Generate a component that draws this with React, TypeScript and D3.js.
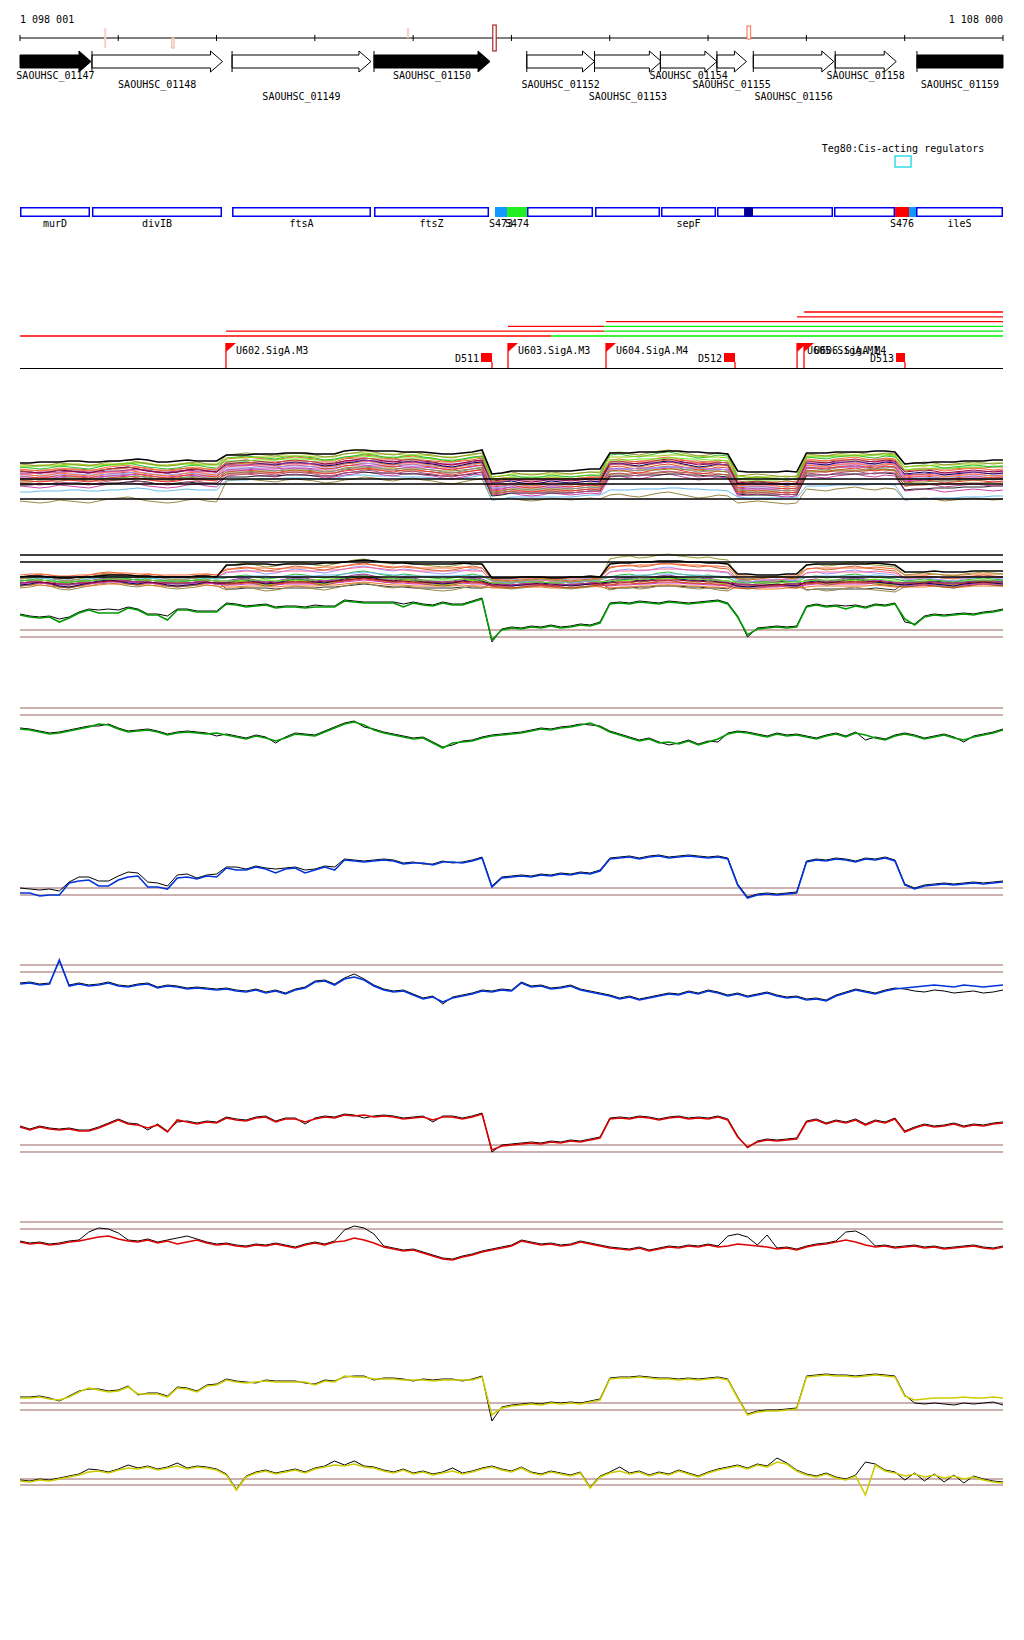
import * as d3 from 'd3'

const START = 1098001
const END = 1108000

// sample positions of every signal track (one value each 100 bp)
const grid = d3.range(101).map(i => Math.min(START + i * 100, END))

const axisMarks = [
  { start: 1098858, end: 1098878, kind: 'both' },
  { start: 1099545, end: 1099568, kind: 'minus' },
  { start: 1101937, end: 1101958, kind: 'plus' },
  { start: 1102810, end: 1102845, kind: 'tall' },
  { start: 1105396, end: 1105432, kind: 'plusBox' },
]

const genes = [
  { name: 'SAOUHSC_01147', start: 1098001, end: 1098723, dark: true },
  { name: 'SAOUHSC_01148', start: 1098733, end: 1100061, dark: false },
  { name: 'SAOUHSC_01149', start: 1100158, end: 1101571, dark: false },
  { name: 'SAOUHSC_01150', start: 1101602, end: 1102782, dark: true },
  { name: 'SAOUHSC_01152', start: 1103156, end: 1103845, dark: false },
  { name: 'SAOUHSC_01153', start: 1103845, end: 1104525, dark: false },
  { name: 'SAOUHSC_01154', start: 1104515, end: 1105090, dark: false },
  { name: 'SAOUHSC_01155', start: 1105090, end: 1105390, dark: false },
  { name: 'SAOUHSC_01156', start: 1105460, end: 1106279, dark: false },
  { name: 'SAOUHSC_01158', start: 1106293, end: 1106914, dark: false },
  { name: 'SAOUHSC_01159', start: 1107125, end: 1108000, dark: true },
]

const regulators = [{ name: 'Teg80', category: 'Cis-acting regulators', start: 1106902, end: 1107065 }]

const features = [
  { name: 'murD', start: 1098001, end: 1098713, kind: 'cds' },
  { name: 'divIB', start: 1098733, end: 1100056, kind: 'cds' },
  { name: 'ftsA', start: 1100158, end: 1101571, kind: 'cds' },
  { name: 'ftsZ', start: 1101602, end: 1102772, kind: 'cds' },
  { name: 'S473', start: 1102833, end: 1102955, kind: 'utr' },
  { name: 'S474', start: 1102955, end: 1103158, kind: 'srna' },
  { name: '', start: 1103158, end: 1103830, kind: 'cds' },
  { name: '', start: 1103850, end: 1104511, kind: 'cds' },
  { name: 'sepF', start: 1104521, end: 1105081, kind: 'cds' },
  { name: '', start: 1105091, end: 1106271, kind: 'cds' },
  { name: '', start: 1105366, end: 1105457, kind: 'ncrna' },
  { name: '', start: 1106281, end: 1106902, kind: 'cds' },
  { name: 'S476', start: 1106902, end: 1107044, kind: 'riboswitch' },
  { name: '', start: 1107044, end: 1107115, kind: 'utr' },
  { name: 'ileS', start: 1107115, end: 1108000, kind: 'cds' },
]

const transcripts = [
  { start: 1098001, switchAt: 1103402, end: 1108000 },
  { start: 1100096, switchAt: 1103941, end: 1108000 },
  { start: 1102965, switchAt: 1103941, end: 1108000 },
  { start: 1103962, switchAt: null, end: 1108000 },
  { start: 1105905, switchAt: null, end: 1108000 },
  { start: 1105976, switchAt: null, end: 1108000 },
]

const promoters = [
  { name: 'U602.SigA.M3', pos: 1100096 },
  { name: 'U603.SigA.M3', pos: 1102965 },
  { name: 'U604.SigA.M4', pos: 1103962 },
  { name: 'U605.SigA.M1', pos: 1105905 },
  { name: 'U606.SigA.M4', pos: 1105976 },
]

const terminators = [
  { name: 'D511', start: 1102690, end: 1102802 },
  { name: 'D512', start: 1105162, end: 1105274 },
  { name: 'D513', start: 1106912, end: 1107003 },
]

// segment boundaries of the expression bundles
const segBounds = [1100056, 1102761, 1103952, 1105254, 1105945, 1106952]

// bundle 1: level of each condition in each segment
const bundleALevels = [
  [36, 46, 27, 46, 27, 46, 37],
  [34, 44, 25, 45, 23, 44, 35],
  [33, 43, 24, 42, 22, 43, 34],
  [31, 41, 22, 43, 20, 41, 32],
  [32, 40, 21, 39, 19, 42, 31],
  [29, 40, 20, 38, 20, 39, 29],
  [28, 38, 19, 37, 17, 38, 30],
  [27, 37, 18, 36, 16, 37, 27],
  [26, 36, 18, 35, 15, 36, 26],
  [27, 35, 16, 34, 15, 35, 25],
  [25, 35, 15, 35, 14, 34, 24],
  [24, 34, 14, 33, 13, 33, 23],
  [23, 33, 13, 30, 12, 33, 22],
  [22, 32, 12, 31, 11, 31, 21],
  [21, 31, 11, 30, 10, 31, 20],
  [20, 29, 10, 29, 9, 30, 19],
  [19, 29, 9, 28, 8, 28, 18],
  [18, 27, 8, 27, 7, 28, 17],
  [17, 27, 7, 25, 6, 27, 15],
  [15, 25, 6, 24, 5, 25, 13],
  [14, 24, 5, 23, 4, 24, 11],
  [12, 23, 4, 21, 3, 22, 8],
  [7, 21, 1, 9, 1, 13, 1],
  [-3, 18, -1, 3, -4, 9, -1],
]

const bundleAWiggle = [
  0, 0, 1, 1, 1, 2, 2, 1, 1, 2, 2, 3, 4, 3, 1, 1, 2, 3, 2, 2, 2,
  -2, -2, -2, -1, -1, -1, 0, 0, 0, -1, -1, -1, 2, 3, 3, 2, 2, 2, 1, 1, 1, 0, -1, -1, 0, 1, 3,
  -2, -1, 1, 1, 1, 1, 1, 1, 1, 2, 3, 3,
  0, 0, 0, 1, 1, 1, 2, 2, 1, 1, 0, 0, -1,
  1, 0, 0, 0, 0, 1, 0,
  0, 0, 0, 1, 1, 1, 1, 2, 2, 1,
  -2, -1, -1, 0, 0, 0, 1, 1, 1, 2, 2,
]

const bundleAWiggle2 = [
  1, 0, -1, 0, 2, 1, 0, -1, 1, 3, 4, 5, 3, 1, 0, -1, 0, 2, 3, 1, 0,
  0, 1, 2, 1, 0, -1, 1, 2, 1, 0, -2, -1, 1, 2, 4, 3, 1, 0, 2, 3, 1, 0, -2, -3, -1, 1, 2,
  0, 1, 2, 0, -1, 0, 2, 1, 0, 1, 2, 1,
  1, 2, 0, -1, 1, 3, 4, 2, 0, -2, -1, 1, 0,
  0, 1, 2, 1, 0, -1, 0,
  1, 0, -1, 1, 2, 3, 1, 0, 2, 1,
  0, 1, 2, 1, -1, 0, 1, 2, 1, 0, 1,
]

const bundleBLevels = [
  [-1, 11, -1, 12, 2, 11, 4],
  [-2, 9, -4, 15, -1, 9, 2],
  [1, 7, -2, 9, 0, 7, 1],
  [0, 5, -3, 6, -2, 5, -1],
  [-1, 4, -4, 4, -3, 3, -2],
  [-2, 2, -5, 2, -4, 1, -3],
  [-3, -1, -3, -1, -3, -1, -2],
  [-4, -3, -5, -3, -5, -3, -4],
  [-5, -5, -6, -5, -6, -5, -5],
  [-6, -6, -7, -6, -7, -6, -6],
  [-7, -7, -8, -7, -8, -7, -7],
  [-8, -8, -8, -8, -9, -8, -8],
  [-7, -8, -9, -9, -9, -8, -8],
  [-6, -9, -7, -9, -7, -9, -7],
  [-8, -9, -9, -10, -10, -9, -9],
  [-9, -10, -10, -11, -11, -10, -10],
  [-10, -11, -11, -12, -12, -11, -11],
  [-11, -15, -11, -16, -9, -16, -10],
  [-5, -13, -6, -13, -5, -14, -6],
  [-9, -7, -10, -7, -10, -7, -9],
]

const bundleBWiggle = [
  1, 2, 2, 1, 0, 0, 1, 1, 2, 3, 3, 3, 2, 2, 1, 1, 1, 1, 2, 2, 1,
  1, 1, 2, 2, 2, 1, 2, 2, 2, 2, 3, 3, 4, 5, 6, 5, 4, 3, 3, 2, 2, 2, 2, 2, 3, 2, 2,
  0, 0, 0, 1, 1, 1, 0, 0, 1, 1, 2, 1,
  1, 2, 2, 3, 3, 4, 4, 4, 3, 3, 2, 2, 1,
  1, 1, 0, 0, 0, 1, 1,
  1, 2, 2, 2, 2, 2, 2, 3, 2, 1,
  1, 1, 1, 2, 1, 1, 1, 2, 2, 2, 2,
]

const bundleBWiggle2 = [
  0, 1, 3, 2, -1, -2, 0, 2, 4, 5, 4, 2, 1, 3, 2, 0, -1, 0, 1, 3, 2,
  2, 4, 5, 3, 1, 2, 4, 6, 5, 3, 2, 4, 6, 8, 9, 7, 5, 4, 6, 5, 3, 2, 1, 2, 4, 6, 4,
  1, 0, -1, 0, 1, 2, 1, 0, -1, 0, 1, 2,
  3, 5, 6, 4, 5, 7, 8, 6, 5, 4, 5, 3, 2,
  0, -1, 0, 1, 2, 1, 0,
  3, 4, 2, 3, 5, 6, 4, 3, 2, 1,
  0, 1, 2, 1, 0, -1, 1, 2, 3, 2, 1,
]

const trackC = [
  22, 20, 19, 20, 15, 19, 24, 27, 24, 24, 24, 29, 27, 22, 22, 17, 27, 27, 25, 25, 25,
  33, 32, 30, 31, 32, 29, 30, 30, 29, 30, 30, 30, 36, 35, 34, 34, 34, 34, 30, 34, 32, 31, 34, 32, 32, 35, 38,
  -3, 7, 9, 8, 10, 9, 11, 9, 10, 12, 11, 14,
  33, 34, 33, 35, 34, 33, 35, 34, 33, 34, 35, 36, 33,
  20, 2, 8, 9, 10, 9, 10,
  30, 32, 30, 31, 28, 31, 29, 32, 31, 33,
  18, 12, 20, 22, 21, 22, 23, 22, 24, 25, 27,
]
const trackCBlack = [[4, 17], [8, 26], [9, 27], [10, 26], [15, 20], [30, 31], [39, 32], [48, -6], [74, -1], [84, 30], [90, 14]]

const trackD = [
  -14, -15, -17, -19, -18, -16, -14, -12, -9, -10, -14,
  -17, -16, -15, -17, -20, -18, -17, -18, -19, -18,
  -20, -22, -24, -21, -23, -26, -23, -19, -20, -21,
  -17, -13, -9, -7, -10, -15, -18, -20, -22, -24,
  -23, -28, -33, -28, -27, -26, -23, -21, -20, -19,
  -18, -16, -14, -15, -13, -12, -10, -8, -12, -17,
  -20, -23, -26, -24, -28, -27, -29, -26, -30, -27,
  -24, -19, -17, -18, -20, -22, -19, -21, -20, -22,
  -24, -21, -19, -22, -18, -20, -23, -25, -21, -19,
  -21, -24, -22, -20, -23, -25, -22, -20, -18, -15, -12,
]
const trackDBlack = [[8, -12], [20, -22], [26, -29], [35, -13], [44, -31], [58, -11], [66, -31], [71, -28], [86, -26], [96, -28]]

const trackE = [
  2, 2, -1, 0, 0, 12, 14, 15, 9, 9, 15, 18, 19, 8, 8, 6, 17, 18, 16, 19, 18,
  27, 25, 25, 28, 26, 22, 26, 27, 22, 25, 28, 25, 35, 34, 33, 34, 35, 34, 31, 32, 32, 30, 33, 33, 32, 34, 37,
  8, 17, 18, 19, 18, 20, 19, 21, 20, 22, 21, 24,
  36, 37, 38, 36, 38, 39, 37, 38, 39, 38, 37, 38, 36,
  10, -3, 0, 1, 0, 1, 2,
  33, 35, 34, 36, 35, 33, 36, 35, 37, 34,
  10, 6, 9, 10, 11, 10, 11, 12, 11, 12, 13,
]
const trackEBlack = [[0, 6], [1, 5], [2, 4], [3, 5], [4, 3], [6, 17], [7, 17], [8, 13], [9, 13], [10, 18], [11, 22], [12, 21], [13, 12], [14, 11], [15, 8], [16, 19], [17, 20], [20, 20], [22, 27], [26, 25], [29, 24], [32, 27], [41, 30], [44, 31]]

const trackF = [
  -12, -11, -13, -12, 12, -14, -12, -14, -13, -11, -14,
  -15, -13, -12, -16, -14, -15, -17, -16, -17, -18,
  -17, -19, -20, -18, -21, -19, -22, -18, -16, -10,
  -9, -13, -7, -5, -8, -14, -18, -20, -19, -23,
  -27, -25, -30, -26, -24, -22, -19, -20, -18, -19,
  -11, -15, -14, -17, -16, -14, -18, -20, -22, -24,
  -27, -25, -28, -26, -24, -22, -23, -20, -22, -19,
  -21, -24, -22, -25, -23, -21, -24, -26, -25, -28,
  -27, -29, -24, -21, -18, -20, -22, -19, -17, -16,
  -15, -14, -13, -14, -15, -13, -14, -15, -14, -13, -15,
]
const trackFBlack = [[4, 10], [34, -3], [43, -33], [90, -18], [91, -20], [92, -21], [93, -19], [94, -20], [95, -22], [96, -21], [97, -20], [98, -22], [99, -21], [100, -19]]

const trackG = [
  25, 22, 25, 23, 22, 23, 21, 21, 24, 28, 32, 28, 27, 24, 27, 20, 32, 30, 28, 30, 29,
  34, 32, 31, 34, 35, 30, 33, 33, 30, 33, 35, 34, 37, 36, 37, 35, 36, 35, 33, 34, 35, 32, 35, 35, 33, 35, 38,
  2, 6, 7, 8, 9, 8, 10, 9, 11, 10, 12, 14,
  33, 34, 33, 35, 34, 32, 34, 35, 33, 34, 33, 35, 32,
  15, 5, 10, 12, 11, 12, 13,
  30, 32, 28, 31, 29, 32, 27, 31, 29, 33,
  20, 24, 27, 25, 26, 28, 25, 27, 26, 28, 29,
]
const trackGBlack = [[13, 21], [16, 29], [29, 27], [35, 33], [42, 29], [48, -1], [74, 3]]

const trackH = [
  -13, -15, -14, -16, -15, -13, -12, -10, -8, -7, -10,
  -12, -13, -11, -14, -12, -15, -13, -11, -14, -16,
  -15, -17, -18, -16, -17, -15, -17, -19, -16, -14,
  -16, -13, -12, -9, -11, -14, -18, -20, -22, -21,
  -24, -27, -30, -31, -28, -26, -23, -21, -19, -17,
  -12, -14, -16, -15, -17, -16, -13, -15, -17, -19,
  -20, -21, -19, -22, -20, -18, -19, -17, -18, -16,
  -18, -17, -15, -16, -17, -18, -20, -19, -21, -18,
  -16, -15, -13, -11, -13, -16, -18, -17, -19, -18,
  -17, -19, -18, -20, -19, -18, -17, -19, -20, -18, -17,
]
const trackHBlack = [[7, -4], [8, 0], [9, -1], [10, -5], [16, -10], [17, -8], [33, -2], [34, 2], [35, 0], [36, -6], [72, -8], [73, -6], [74, -9], [76, -7], [84, -4], [85, -3], [86, -8]]

const trackI = [
  12, 12, 13, 11, 10, 13, 18, 22, 20, 18, 19, 23, 16, 16, 16, 13, 22, 21, 18, 24, 25,
  30, 28, 27, 28, 29, 28, 28, 28, 28, 25, 29, 28, 34, 33, 33, 31, 31, 31, 30, 30, 30, 29, 30, 30, 30, 30, 33,
  -5, 2, 4, 5, 6, 5, 7, 6, 7, 6, 8, 10,
  31, 32, 32, 33, 32, 31, 31, 30, 31, 30, 31, 32, 30,
  12, -5, -2, -1, -1, 0, 1,
  33, 34, 35, 34, 34, 33, 34, 35, 34, 33,
  14, 10, 11, 12, 12, 12, 13, 12, 12, 13, 12,
]
const trackIBlack = [[4, 8], [7, 20], [12, 14], [21, 30], [24, 26], [29, 26], [33, 32], [36, 29], [40, 28], [45, 28], [48, -12], [91, 6], [92, 5], [93, 6], [94, 5], [95, 4], [96, 6], [97, 5], [98, 6], [99, 7], [100, 4]]

const trackJ = [
  4, 3, 5, 4, 6, 8, 10, 13, 14, 12, 15,
  17, 16, 18, 15, 17, 19, 16, 18, 17, 15,
  10, -5, 8, 12, 14, 11, 13, 15, 12, 16,
  18, 20, 19, 21, 18, 17, 14, 12, 15, 11,
  13, 10, 12, 14, 11, 13, 16, 18, 15, 13,
  17, 12, 10, 13, 11, 9, 12, -3, 8, 12,
  14, 11, 13, 9, 12, 10, 14, 11, 8, 12,
  15, 17, 19, 16, 20, 18, 23, 21, 14, 10,
  8, 11, 7, 5, 9, -10, 20, 14, 12, 9,
  11, 8, 10, 7, 9, 6, 8, 5, 3, 2, -2,
]
const trackJBlack = [[7, 15], [11, 19], [16, 21], [32, 23], [34, 23], [44, 16], [61, 17], [77, 26], [86, 22], [90, 4], [92, 3], [94, 2], [96, 1]]

// ---------- layout / style ----------
const x = d3.scaleLinear().domain([START, END]).range([20, 1003])
const FONT = 'DejaVu Sans Mono'

const paletteA = ['#000000', '#999933', '#99cc00', '#33bb33', '#66ee22', '#ff6633', '#cc6633', '#990033', '#993399', '#000066', '#ff6699', '#ee7722', '#9999ff', '#dd4422', '#cc33cc', '#888888', '#888822', '#ee3333', '#aa5522', '#bb4488', '#222222', '#cc44aa', '#66bbee', '#998844']
const paletteB = ['#000000', '#999933', '#ff6633', '#cc6633', '#ff6699', '#9999ff', '#66bbee', '#33bb33', '#66ee22', '#993399', '#990033', '#000066', '#dd4422', '#99cc00', '#cc33cc', '#aa5522', '#ee7722', '#998844', '#333333', '#888888']

const markStyle = {
  both: { y0: 28, y1: 48, fill: '#f8cfc4', stroke: 'none' },
  minus: { y0: 38, y1: 48, fill: '#fff', stroke: '#f2b4a4' },
  plus: { y0: 28, y1: 38, fill: '#f8cfc4', stroke: 'none' },
  tall: { y0: 25, y1: 51, fill: '#fff', stroke: '#aa2a2a' },
  plusBox: { y0: 26, y1: 39, fill: '#fff', stroke: '#ff7f60' },
}

const featureFill = { cds: '#fff', utr: '#1199ff', srna: '#22ee22', ncrna: '#000099', riboswitch: '#ff0000' }

const BROWN = '#9c6464'

const signalTracks = [
  { values: trackC, black: trackCBlack, color: '#009900', base: 637, refs: [7, 0] },
  { values: trackD, black: trackDBlack, color: '#009900', base: 715, refs: [7, 0] },
  { values: trackE, black: trackEBlack, color: '#0033dd', base: 895, refs: [7, 0] },
  { values: trackF, black: trackFBlack, color: '#0033dd', base: 972, refs: [7, 0] },
  { values: trackG, black: trackGBlack, color: '#dd0000', base: 1152, refs: [7, 0] },
  { values: trackH, black: trackHBlack, color: '#dd0000', base: 1229, refs: [7, 0] },
  { values: trackI, black: trackIBlack, color: '#cccc00', base: 1410, refs: [7, 0] },
  { values: trackJ, black: trackJBlack, color: '#cccc00', base: 1485, refs: [6, 0] },
]

const yScale = (base: number) => d3.scaleLinear().domain([0, 60]).range([base, base - 60])

const pathOf = (vals: number[], y: d3.ScaleLinear<number, number>) =>
  d3.line<number>().x((_, i) => x(grid[i])).y(v => y(v))(vals.slice(0, grid.length)) || ''

const withOverrides = (vals: number[], over: number[][]) => {
  const m = new Map(over.map(d => [d[0], d[1]]))
  return vals.map((v, i) => (m.has(i) ? (m.get(i) as number) : v))
}

const bundleSeries = (levels: number[], wiggle: number[]) =>
  grid.map((bp, i) => levels[d3.bisectRight(segBounds, bp)] + (wiggle[i] || 0))

const geneRowY = [79, 88, 100]

function genePath(a: number, b: number, runsOff: boolean) {
  const h = Math.min(12, b - a)
  if (runsOff) return `M${a},55L${b},55L${b},68L${a},68Z`
  return `M${a},55L${b - h},55L${b - h},51L${b},61.5L${b - h},72L${b - h},68L${a},68Z`
}

const Bundle = ({ levels, wiggles, palette, base, refs }) => {
  const y = yScale(base)
  return (
    <g>
      {levels.map((lv, i) => ({ lv, i })).reverse().map(({ lv, i }) => (
        <path key={i} d={pathOf(bundleSeries(lv, wiggles[i % wiggles.length]), y)} fill="none"
          stroke={palette[i % palette.length]} strokeWidth={i === 0 ? 1.6 : 1} />
      ))}
      {refs.map((r, i) => (
        <line key={'r' + i} x1={x(START)} x2={x(END)} y1={y(r)} y2={y(r)} stroke="#000" strokeWidth={1.4} />
      ))}
    </g>
  )
}

export default function App() {
  const ticks = [START, ...d3.range(1099000, END + 1, 1000)]
  return (
    <svg width={1024} height={1640} style={{ position: 'absolute', left: 0, top: 0, background: '#fff' }}
      fontFamily={FONT} fontSize={10}>
      <rect width={1024} height={1640} fill="#fff" />

      {/* coordinate axis */}
      <text x={x(START)} y={23}>{d3.format(',')(START).replace(/,/g, ' ')}</text>
      <text x={x(END)} y={23} textAnchor="end">{d3.format(',')(END).replace(/,/g, ' ')}</text>
      <line x1={x(START)} x2={x(END)} y1={38} y2={38} stroke="#000" />
      {ticks.map(t => (
        <line key={t} x1={x(t)} x2={x(t)} y1={35} y2={41} stroke="#000" />
      ))}
      {axisMarks.map((m, i) => {
        const s = markStyle[m.kind]
        return (
          <rect key={i} x={x(m.start)} y={s.y0} width={Math.max(2, x(m.end) - x(m.start))} height={s.y1 - s.y0}
            fill={s.fill} stroke={s.stroke} strokeWidth={1.2} />
        )
      })}

      {/* genes */}
      {genes.map((g, i) => {
        const a = x(g.start), b = x(g.end)
        return (
          <g key={g.name}>
            <path d={genePath(a, b, g.end >= END)} fill={g.dark ? '#000' : '#fff'} stroke="#000" strokeWidth={1} />
            {g.start > START && <line x1={a} x2={a} y1={51} y2={72} stroke="#000" />}
            <text x={(a + b) / 2} y={geneRowY[i % 3]} textAnchor="middle">{g.name}</text>
          </g>
        )
      })}

      {/* regulators */}
      {regulators.map(r => (
        <g key={r.name}>
          <text x={(x(r.start) + x(r.end)) / 2} y={152} textAnchor="middle">{`${r.name}:${r.category}`}</text>
          <rect x={x(r.start)} y={156} width={x(r.end) - x(r.start)} height={11} fill="none" stroke="#33dde6" strokeWidth={1.5} />
        </g>
      ))}

      {/* annotated features */}
      {features.map((f, i) => {
        const a = x(f.start), b = x(f.end)
        const filled = f.kind !== 'cds'
        return (
          <g key={i}>
            <rect x={a + (filled ? 0 : 0.75)} y={filled ? 207 : 207.75} width={b - a - (filled ? 0 : 1.5)} height={filled ? 10 : 8.5}
              fill={featureFill[f.kind]} stroke={filled ? 'none' : '#0000ee'} strokeWidth={1.5} />
            {f.name && <text x={(a + b) / 2} y={227} textAnchor="middle">{f.name}</text>}
          </g>
        )
      })}

      {/* transcription units */}
      {transcripts.map((t, i) => {
        const y = 336 - i * 4.8
        const sw = t.switchAt ?? t.end
        return (
          <g key={i}>
            <line x1={x(t.start)} x2={x(sw)} y1={y} y2={y} stroke="#ff0000" strokeWidth={1.3} />
            {t.switchAt && <line x1={x(sw)} x2={x(t.end)} y1={y} y2={y} stroke="#00ee00" strokeWidth={1.3} />}
          </g>
        )
      })}
      <line x1={x(START)} x2={x(END)} y1={368.5} y2={368.5} stroke="#000" />
      {promoters.map(p => {
        const px = x(p.pos)
        return (
          <g key={p.name}>
            <line x1={px} x2={px} y1={343} y2={368} stroke="#ff0000" strokeWidth={1.3} />
            <path d={`M${px},343L${px + 10},343L${px},352Z`} fill="#ff0000" />
            <text x={px + 10} y={354}>{p.name}</text>
          </g>
        )
      })}
      {terminators.map(t => {
        const a = x(t.start), b = x(t.end)
        return (
          <g key={t.name}>
            <rect x={a} y={353} width={b - a} height={9} fill="#ff0000" />
            <line x1={b} x2={b} y1={362} y2={368} stroke="#ff0000" strokeWidth={1.3} />
            <text x={a - 2} y={362} textAnchor="end">{t.name}</text>
          </g>
        )
      })}

      {/* expression bundles */}
      <Bundle levels={bundleALevels} wiggles={[bundleAWiggle, bundleAWiggle2]} palette={paletteA} base={499} refs={[20, 15, 0]} />
      <Bundle levels={bundleBLevels} wiggles={[bundleBWiggle, bundleBWiggle2]} palette={paletteB} base={577} refs={[22, 15, 0]} />

      {/* single-condition tracks */}
      {signalTracks.map((t, k) => {
        const y = yScale(t.base)
        return (
          <g key={k}>
            {t.refs.map((r, i) => (
              <line key={i} x1={x(START)} x2={x(END)} y1={y(r)} y2={y(r)} stroke={BROWN} strokeWidth={1.2} />
            ))}
            <path d={pathOf(withOverrides(t.values, t.black), y)} fill="none" stroke="#000" strokeWidth={1}
              transform="translate(0,-1)" />
            <path d={pathOf(t.values, y)} fill="none" stroke={t.color} strokeWidth={1.6} />
          </g>
        )
      })}
    </svg>
  )
}
